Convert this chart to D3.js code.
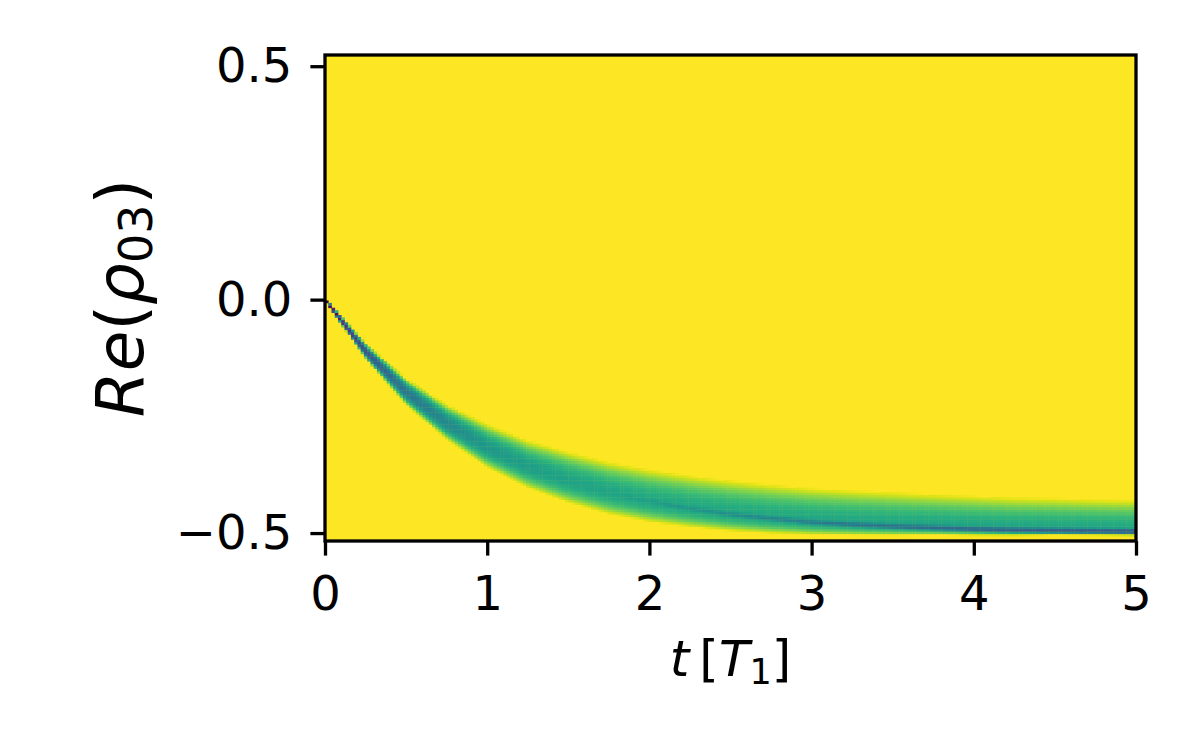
<!DOCTYPE html>
<html>
<head>
<meta charset="utf-8">
<script src="https://cdn.jsdelivr.net/npm/d3@7"></script>
<style>
  body { margin: 0; background: #fff; }
  svg { display: block; }
  text { font-family: "DejaVu Sans", sans-serif; fill: #000; }
</style>
</head>
<body>
<div id="chart"></div>
<script>
// ---------- Data ----------
// sample times, in units of T1
const tSamples = [0, 0.25, 0.5, 0.75, 1, 1.25, 1.5, 1.75, 2, 2.25, 2.5,
                  2.75, 3, 3.25, 3.5, 3.75, 4, 4.25, 4.5, 4.75, 5];
// most likely value of Re(rho_03) at each sample time (band ridge)
const modeValues = [0, -0.110, -0.197, -0.264, -0.316, -0.357, -0.388, -0.413,
                    -0.432, -0.447, -0.459, -0.468, -0.476, -0.481, -0.485,
                    -0.488, -0.491, -0.493, -0.494, -0.495, -0.496];
// spread of the band above / below the ridge
const spreadUp = [0.0004, 0.006, 0.012, 0.018, 0.024, 0.028, 0.032, 0.034,
                  0.036, 0.037, 0.038, 0.038, 0.038, 0.038, 0.038, 0.037,
                  0.037, 0.036, 0.036, 0.035, 0.035];
const spreadDown = [0.0004, 0.006, 0.012, 0.016, 0.021, 0.023, 0.024, 0.024,
                    0.023, 0.021, 0.019, 0.017, 0.014, 0.012, 0.010, 0.008,
                    0.007, 0.006, 0.005, 0.0045, 0.004];
// share of trajectories sitting in the thin dark ridge at late times
const coreWeight = [0, 0, 0, 0, 0, 0, 0, 0, 0.02, 0.04, 0.06, 0.09, 0.12,
                    0.15, 0.18, 0.21, 0.24, 0.27, 0.30, 0.32, 0.35];
const coreWidth = 0.0025;

const xTicks = [0, 1, 2, 3, 4, 5];
const yTicks = [-0.5, 0, 0.5];
const tRange = [0, 5];
const valueRange = [-0.517, 0.524];
const nTimeBins = 250;
const nValueBins = 200;
const minShare = 0.011; // below this a cell stays empty (yellow)

// ---------- Layout ----------
const W = 1200, H = 750;
const plot = { left: 325, right: 1136, top: 55, bottom: 541 };
const tickLen = 14.6, lw = 3.3;

const svg = d3.select("#chart").append("svg")
  .attr("width", W).attr("height", H);

const x = d3.scaleLinear().domain(tRange).range([plot.left, plot.right]);
const y = d3.scaleLinear().domain(valueRange).range([plot.bottom, plot.top]);

const interp = arr => d3.scaleLinear().domain(tSamples).range(arr).clamp(true);
const modeAt = interp(modeValues), upAt = interp(spreadUp),
      downAt = interp(spreadDown), coreAt = interp(coreWeight);

function erf(v) {
  const s = Math.sign(v); v = Math.abs(v);
  const k = 1 / (1 + 0.3275911 * v);
  const r = 1 - (((((1.061405429 * k - 1.453152027) * k) + 1.421413741) * k
    - 0.284496736) * k + 0.254829592) * k * Math.exp(-v * v);
  return s * r;
}
const Phi = z => 0.5 * (1 + erf(z / Math.SQRT2));

// cumulative share of trajectories below value v at time t
function cdf(v, m, su, sd, w) {
  const tot = su + sd;
  let skew;
  if (v < m) skew = 2 * sd / tot * Phi((v - m) / sd);
  else skew = sd / tot + 2 * su / tot * (Phi((v - m) / su) - 0.5);
  return w * Phi((v - m) / coreWidth) + (1 - w) * skew;
}

// ---------- Cells ----------
const tEdges = d3.range(nTimeBins + 1).map(i => tRange[0] + (tRange[1] - tRange[0]) * i / nTimeBins);
const vEdges = d3.range(nValueBins + 1).map(j => valueRange[0] + (valueRange[1] - valueRange[0]) * j / nValueBins);

const cells = [];
for (let i = 0; i < nTimeBins; i++) {
  const tc = (tEdges[i] + tEdges[i + 1]) / 2;
  const m = modeAt(tc), su = upAt(tc), sd = downAt(tc), w = coreAt(tc);
  for (let j = 0; j < nValueBins; j++) {
    const share = cdf(vEdges[j + 1], m, su, sd, w) - cdf(vEdges[j], m, su, sd, w);
    if (share > minShare) cells.push({ t0: tEdges[i], t1: tEdges[i + 1], v0: vEdges[j], v1: vEdges[j + 1], share });
  }
}

const color = d3.scaleSequentialLog(d3.interpolateViridis)
  .domain([1, minShare]).clamp(true);

svg.append("defs").append("clipPath").attr("id", "clip")
  .append("rect")
  .attr("x", plot.left).attr("y", plot.top)
  .attr("width", plot.right - plot.left).attr("height", plot.bottom - plot.top);

svg.append("rect")
  .attr("x", plot.left).attr("y", plot.top)
  .attr("width", plot.right - plot.left).attr("height", plot.bottom - plot.top)
  .attr("fill", d3.interpolateViridis(1));

svg.append("g").attr("clip-path", "url(#clip)")
  .selectAll("rect").data(cells).join("rect")
  .attr("x", d => x(d.t0))
  .attr("y", d => y(d.v1))
  .attr("width", d => x(d.t1) - x(d.t0) + 0.4)
  .attr("height", d => y(d.v0) - y(d.v1) + 0.4)
  .attr("fill", d => color(d.share));

// ---------- Axes ----------
const xAxis = svg.append("g")
  .attr("transform", `translate(0,${plot.bottom})`)
  .call(d3.axisBottom(x).tickValues(xTicks).tickFormat(d3.format("d"))
    .tickSize(tickLen).tickSizeOuter(0).tickPadding(20));

const yAxis = svg.append("g")
  .attr("transform", `translate(${plot.left},0)`)
  .call(d3.axisLeft(y).tickValues(yTicks).tickFormat(d3.format(".1f"))
    .tickSize(tickLen).tickSizeOuter(0).tickPadding(18));

[xAxis, yAxis].forEach(a => {
  a.select(".domain").remove();
  a.selectAll(".tick line").attr("stroke", "#000").attr("stroke-width", lw);
  a.selectAll(".tick text").attr("fill", "#000")
    .style("font-size", "48px").style("font-family", "DejaVu Sans");
});

// frame
svg.append("rect")
  .attr("x", plot.left).attr("y", plot.top)
  .attr("width", plot.right - plot.left).attr("height", plot.bottom - plot.top)
  .attr("fill", "none").attr("stroke", "#000").attr("stroke-width", lw);

// x label: t [T_1]
const xl = svg.append("text")
  .attr("x", (plot.left + plot.right) / 2).attr("y", 676)
  .attr("text-anchor", "middle").style("font-size", "50px");
xl.append("tspan").attr("font-style", "italic").text("t");
xl.append("tspan").text("\u2009[");
xl.append("tspan").attr("font-style", "italic").text("T");
xl.append("tspan").attr("dy", 8).style("font-size", "35px").text("1");
xl.append("tspan").attr("dy", -8).text("]");

// y label: Re(rho_03)
const yl = svg.append("text")
  .attr("transform", `translate(143,${(plot.top + plot.bottom) / 2}) rotate(-90)`)
  .attr("text-anchor", "middle").style("font-size", "66px");
yl.append("tspan").attr("font-style", "italic").text("Re");
yl.append("tspan").text("(");
yl.append("tspan").attr("font-style", "italic").text("\u03c1");
yl.append("tspan").attr("dy", 9).style("font-size", "46px").text("03");
yl.append("tspan").attr("dy", -9).text(")");
</script>
</body>
</html>
